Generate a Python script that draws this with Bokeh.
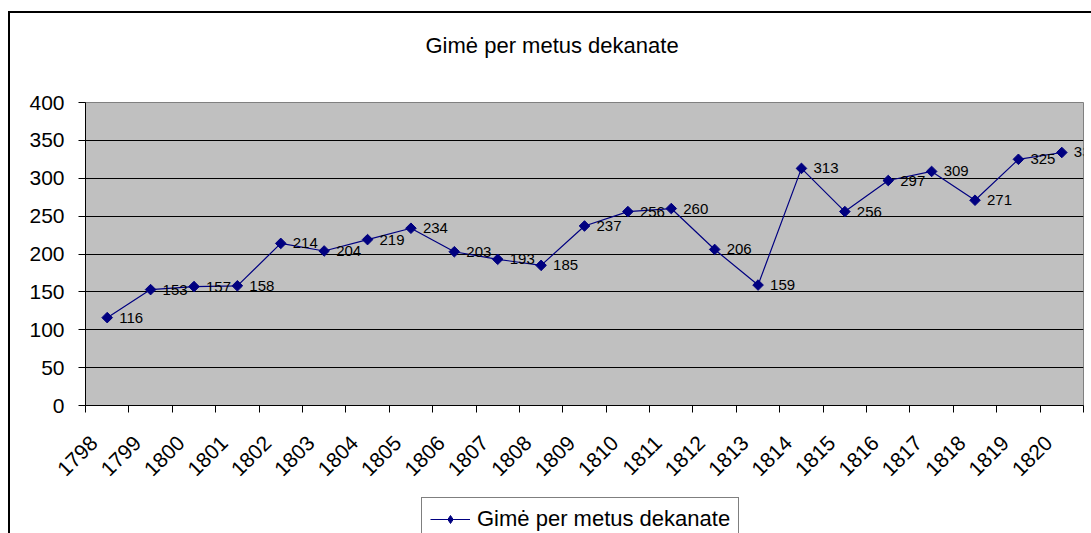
import math
from bokeh.plotting import figure
from bokeh.layouts import column
from bokeh.models import (ColumnDataSource, FixedTicker, Range1d, Legend, LegendItem,
                          LabelSet, Label)
from bokeh.core.properties import value
from bokeh.embed import file_html
from bokeh.resources import INLINE

# ---- data ----
years = ["1798", "1799", "1800", "1801", "1802", "1803", "1804", "1805", "1806",
         "1807", "1808", "1809", "1810", "1811", "1812", "1813", "1814", "1815",
         "1816", "1817", "1818", "1819", "1820"]
births = [116, 153, 157, 158, 214, 204, 219, 234, 203, 193, 185, 237, 256, 260,
          206, 159, 313, 256, 297, 309, 271, 325, 334]
series_name = "Gimė per metus dekanate"
title_text = "Gimė per metus dekanate"
y_ticks = [0, 50, 100, 150, 200, 250, 300, 350, 400]

FONT = "Liberation Sans"
NAVY = "#000080"
W = 1081
LEFT, RIGHT = 75, 8

idx = list(range(len(years)))
src = ColumnDataSource(dict(x=idx, y=births, lbl=[str(v) for v in births]))


def blank(height):
    f = figure(width=W, height=height, output_backend="svg", toolbar_location=None,
               x_axis_type=None, y_axis_type=None,
               x_range=Range1d(-0.5, len(years) - 0.5), y_range=Range1d(-2, -1),
               min_border_left=LEFT, min_border_right=RIGHT, min_border_top=0,
               min_border_bottom=0)
    f.outline_line_color = None
    f.background_fill_color = "white"
    f.border_fill_color = "white"
    f.xgrid.visible = False
    f.ygrid.visible = False
    return f


# ---- title strip ----
p0 = blank(60)
p0.add_layout(Label(x=340, y=28, x_units="screen", y_units="screen", text=title_text,
                    text_font=FONT, text_font_size="22px", text_color="black",
                    text_align="left", text_baseline="alphabetic"))

# ---- main chart ----
p = figure(width=W, height=416, output_backend="svg", toolbar_location=None,
           x_range=Range1d(-0.5, len(years) - 0.5),
           y_range=Range1d(y_ticks[0], y_ticks[-1]),
           min_border_left=LEFT, min_border_right=RIGHT, min_border_top=29,
           min_border_bottom=84)

p.background_fill_color = "#C0C0C0"
p.border_fill_color = "white"
p.outline_line_color = "#808080"
p.outline_line_width = 1

# x axis: labels near category centres, ticks between categories
label_pos = [i - 0.3 for i in idx]
xax = p.xaxis[0]
xax.ticker = FixedTicker(ticks=label_pos,
                         minor_ticks=[i - 0.5 for i in range(len(years) + 1)])
xax.major_label_overrides = {t: y for t, y in zip(label_pos, years)}
xax.major_tick_line_color = None
xax.major_tick_in = 0
xax.major_tick_out = 7
xax.minor_tick_in = 0
xax.minor_tick_out = 7
xax.minor_tick_line_color = "black"
xax.axis_line_color = "black"
xax.major_label_orientation = math.pi / 4
xax.major_label_text_font = FONT
xax.major_label_text_font_size = "21px"
xax.major_label_text_color = "black"
xax.major_label_standoff = 27

yax = p.yaxis[0]
yax.ticker = FixedTicker(ticks=y_ticks)
yax.major_tick_in = 0
yax.major_tick_out = 7
yax.major_tick_line_color = "black"
yax.minor_tick_line_color = None
yax.axis_line_color = "black"
yax.major_label_text_font = FONT
yax.major_label_text_font_size = "21px"
yax.major_label_text_color = "black"
yax.major_label_standoff = 14

p.xgrid.grid_line_color = None
p.ygrid.ticker = FixedTicker(ticks=y_ticks[1:-1])
p.ygrid.grid_line_color = "black"
p.ygrid.grid_line_width = 1

line_kw = dict(line_color=NAVY, line_width=1.2)

p.line("x", "y", source=src, **line_kw)
p.scatter("x", "y", source=src, marker="square", angle=math.pi / 4, size=7.5,
          fill_color=NAVY, line_color=NAVY)

labels = LabelSet(x="x", y="y", text="lbl", source=src, x_offset=12, y_offset=0,
                  text_align="left", text_baseline="middle", text_font_size="15px",
                  text_font=value(FONT), text_color="black")
p.add_layout(labels)

# ---- legend strip (series drawn out of view, only its legend entry shows) ----
p2 = blank(44)
lg_line = p2.line("x", "y", source=src, **line_kw)
lg_pts = p2.scatter("x", "y", source=src, marker="diamond", size=11,
                    fill_color=NAVY, line_color=NAVY)

legend = Legend(items=[LegendItem(label=series_name, renderers=[lg_line, lg_pts])],
                location=(336, -8), orientation="horizontal",
                border_line_color="black", border_line_width=1,
                background_fill_color="white",
                label_text_font=FONT, label_text_font_size="22px",
                label_text_color="black",
                glyph_width=40, glyph_height=20, padding=8, spacing=0,
                label_standoff=7, margin=0)
p2.add_layout(legend)

layout = column(p0, p, p2, spacing=0,
                styles={"margin-left": "8px", "margin-top": "11px",
                        "border-left": "2px solid black",
                        "border-top": "2px solid black"})

open("out.html", "w").write(file_html(layout, INLINE))
